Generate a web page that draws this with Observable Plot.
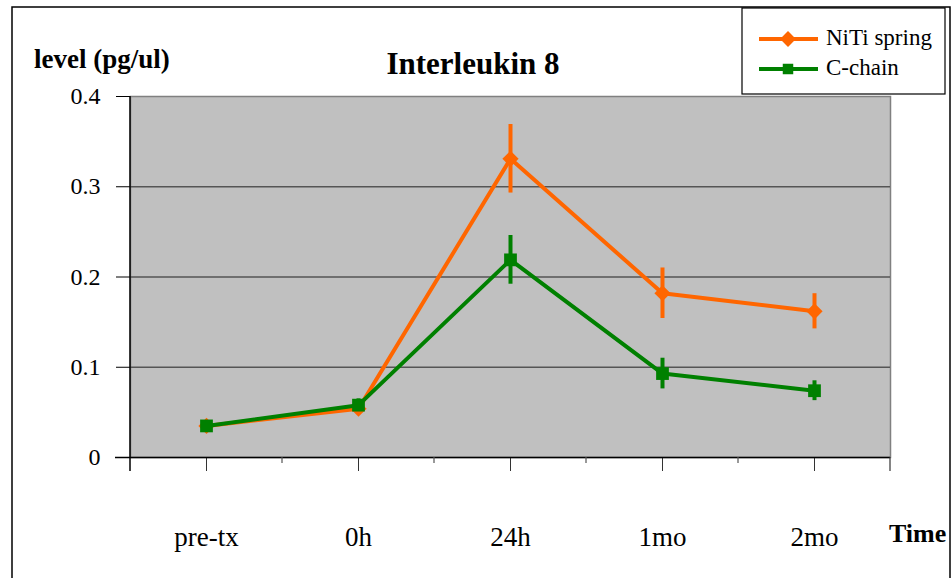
<!DOCTYPE html>
<html>
<head>
<meta charset="utf-8">
<script src="https://cdn.jsdelivr.net/npm/d3@7"></script>
<script src="https://cdn.jsdelivr.net/npm/@observablehq/plot@0.6"></script>
<style>
  html, body { margin: 0; padding: 0; background: #ffffff; }
  #chart svg { display: block; }
  #chart svg, #chart svg text { font-family: "Liberation Serif", "Times New Roman", serif !important; }
</style>
</head>
<body>
<div id="chart"></div>
<script>
const categories = ["pre-tx", "0h", "24h", "1mo", "2mo"];
const nitiValues = [0.035, 0.054, 0.331, 0.182, 0.162];
const nitiErrors = [0.003, 0.004, 0.038, 0.028, 0.0195];
const chainValues = [0.035, 0.058, 0.219, 0.093, 0.074];
const chainErrors = [0.003, 0.007, 0.027, 0.017, 0.011];
const yTicks = [0, 0.1, 0.2, 0.3, 0.4];
const seriesNames = ["NiTi spring", "C-chain"];
const titleText = "Interleukin 8";
const yLabelText = "level (pg/ul)";
const xLabelText = "Time";

const ORANGE = "#ff6600";
const GREEN = "#008000";

const niti = categories.map((t, i) => ({t, v: nitiValues[i], e: nitiErrors[i]}));
const chain = categories.map((t, i) => ({t, v: chainValues[i], e: chainErrors[i]}));

const W = 952, H = 578;
const M = {top: 96, right: 62, bottom: 121, left: 130};

const chart = Plot.plot({
  width: W,
  height: H,
  marginTop: M.top,
  marginRight: M.right,
  marginBottom: M.bottom,
  marginLeft: M.left,
  style: {background: "#ffffff", color: "#000"},
  x: {type: "point", domain: categories, padding: 0.5},
  y: {domain: [0, 0.4]},
  marks: [
    Plot.frame({fill: "#c0c0c0", stroke: "#808080", strokeWidth: 1.5}),
    Plot.gridY([0.1, 0.2, 0.3], {stroke: "#555555", strokeOpacity: 1, strokeWidth: 1.5}),
    Plot.axisY({ticks: yTicks, tickSize: 14, tickPadding: 16, fontSize: 24, label: null,
      tickFormat: d => d === 0 ? "0" : d.toFixed(1), stroke: "#000"}),
    Plot.axisX({tickSize: 14, tickPadding: 55, fontSize: 27, label: null, stroke: "#333"}),
    Plot.ruleY([0], {stroke: "#000", strokeWidth: 1.5, insetLeft: -15}),
    // NiTi spring
    Plot.line(niti, {x: "t", y: "v", stroke: ORANGE, strokeWidth: 4}),
    Plot.ruleX(niti, {x: "t", y1: d => d.v - d.e, y2: d => d.v + d.e, stroke: ORANGE, strokeWidth: 4}),
    Plot.dot(niti, {x: "t", y: "v", symbol: "diamond2", r: 7.3, fill: ORANGE, stroke: null}),
    // C-chain
    Plot.line(chain, {x: "t", y: "v", stroke: GREEN, strokeWidth: 4}),
    Plot.ruleX(chain, {x: "t", y1: d => d.v - d.e, y2: d => d.v + d.e, stroke: GREEN, strokeWidth: 4}),
    Plot.dot(chain, {x: "t", y: "v", symbol: "square", r: 7.2, fill: GREEN, stroke: null})
  ]
});

document.getElementById("chart").appendChild(chart);

const svg = d3.select(chart);
const xs = chart.scale("x");
const x0 = M.left, x1 = W - M.right, yBase = H - M.bottom, yTop = M.top;
const step = xs.apply(categories[1]) - xs.apply(categories[0]);

// y-axis line
svg.append("line").attr("x1", x0).attr("x2", x0).attr("y1", yTop).attr("y2", yBase + 14)
  .attr("stroke", "#000").attr("stroke-width", 1.5);
// right edge tick of the x axis
svg.append("line").attr("x1", x1).attr("x2", x1).attr("y1", yBase).attr("y2", yBase + 14)
  .attr("stroke", "#333").attr("stroke-width", 1.2);
// short boundary ticks between categories
categories.slice(0, -1).forEach(c => {
  const bx = xs.apply(c) + step / 2;
  svg.append("line").attr("x1", bx).attr("x2", bx).attr("y1", yBase).attr("y2", yBase + 6)
    .attr("stroke", "#555").attr("stroke-width", 1.2);
});

// outer chart border
svg.insert("rect", ":first-child").attr("x", 12).attr("y", 7).attr("width", 938).attr("height", 600)
  .attr("fill", "#fff").attr("stroke", "#000").attr("stroke-width", 1.5);

// title
svg.append("text").attr("x", 473).attr("y", 67).attr("text-anchor", "middle").attr("dominant-baseline", "middle")
  .attr("font-size", 31).attr("font-weight", "bold").attr("fill", "#000").text(titleText);
// y label
svg.append("text").attr("x", 34).attr("y", 62).attr("text-anchor", "start").attr("dominant-baseline", "middle")
  .attr("font-size", 27).attr("font-weight", "bold").attr("fill", "#000").text(yLabelText);
// x label
svg.append("text").attr("x", 889).attr("y", 542).attr("text-anchor", "start")
  .attr("font-size", 26).attr("font-weight", "bold").attr("fill", "#000").text(xLabelText);

// legend
const lg = svg.append("g");
lg.append("rect").attr("x", 742).attr("y", 8).attr("width", 203).attr("height", 86)
  .attr("fill", "#fff").attr("stroke", "#000").attr("stroke-width", 1.2);
const legendItems = [
  {name: seriesNames[0], color: ORANGE, sym: d3.symbolDiamond2, size: 160, y: 39},
  {name: seriesNames[1], color: GREEN, sym: d3.symbolSquare, size: 110, y: 69}
];
legendItems.forEach(it => {
  lg.append("line").attr("x1", 759).attr("x2", 818).attr("y1", it.y).attr("y2", it.y)
    .attr("stroke", it.color).attr("stroke-width", 4);
  lg.append("path").attr("d", d3.symbol(it.sym, it.size)()).attr("transform", `translate(788,${it.y})`)
    .attr("fill", it.color);
  lg.append("text").attr("x", 826).attr("y", it.y + 1).attr("text-anchor", "start").attr("dominant-baseline", "middle")
    .attr("font-size", 23).attr("fill", "#000").text(it.name);
});
</script>
</body>
</html>
